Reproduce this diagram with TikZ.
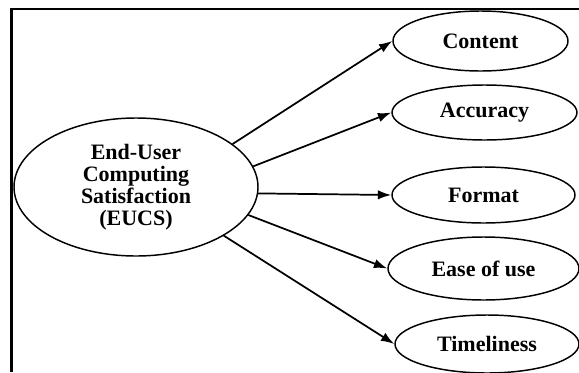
\documentclass[tikz,border=0pt]{standalone}
\usepackage{fontspec}
\setmainfont{Liberation Serif}
\usetikzlibrary{shapes.geometric, arrows.meta}

\tikzset{
  construct/.style={draw, ellipse, line width=1.1pt, inner sep=0pt, align=center,
    font=\fontsize{16.5}{16.5}\selectfont\bfseries},
  link/.style={line width=1.3pt, -{Latex[length=10pt,width=7pt]}}
}

\begin{document}
\begin{tikzpicture}[x=0.75pt,y=0.75pt,yscale=-1,xscale=1]
  \useasboundingbox (0,0) rectangle (579,372);

  %Straight Lines (frame)
  \draw [line width=1.8pt]    (11.5,372) -- (11.5,9) -- (579,9) ;

  %Shape: Ellipse
  \node [construct, minimum width=183pt, minimum height=103.5pt] (eucs) at (136,187)
    {End-User\\Computing\\Satisfaction\\(EUCS)};
  %Shape: Ellipse
  \node [construct, minimum width=131.25pt, minimum height=45pt] (content) at (480.5,41) {Content};
  %Shape: Ellipse
  \node [construct, minimum width=138.75pt, minimum height=41.25pt] (accuracy) at (484.5,112.5) {Accuracy};
  %Shape: Ellipse
  \node [construct, minimum width=137.25pt, minimum height=42pt] (format) at (483.5,195) {Format};
  %Shape: Ellipse
  \node [construct, minimum width=143.25pt, minimum height=47.25pt] (ease) at (483.5,268.5) {Ease of use};
  %Shape: Ellipse
  \node [construct, minimum width=138pt, minimum height=43.5pt] (timeliness) at (487,344) {Timeliness};

  %Straight Lines
  \draw [link] (eucs.24) -- (content.west) ;
  \draw [link] (eucs.10) -- (accuracy.west) ;
  \draw [link] (eucs.-3) -- (format.west) ;
  \draw [link] (eucs.-14) -- (ease.west) ;
  \draw [link] (eucs.-29) -- (timeliness.west) ;

\end{tikzpicture}
\end{document}
